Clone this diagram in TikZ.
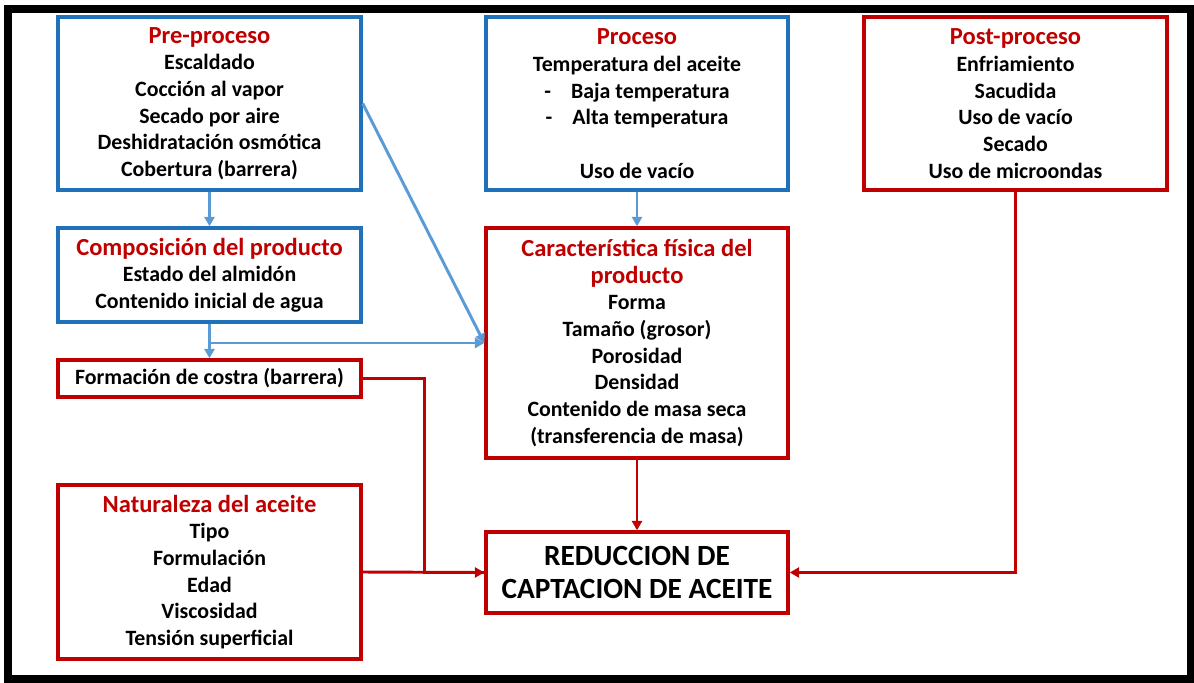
\documentclass[tikz,border=0pt]{standalone}
\usepackage{fontspec}
\setmainfont{Carlito}
\usetikzlibrary{arrows.meta,calc}
\definecolor{tred}{HTML}{C00000}
\definecolor{bbox}{HTML}{1F72BA}
\definecolor{barr}{HTML}{5B9BD5}
\newcommand{\boxtitle}[1]{{\fontsize{18.4}{20}\selectfont\color{tred}#1}}
\begin{document}
\begin{tikzpicture}[x=0.75pt,y=-0.75pt,
 box/.style={draw, line width=2.6pt, fill=white, align=center, inner sep=0pt,
   font=\bfseries\fontsize{16.4}{20}\selectfont},
 wh/.style 2 args={minimum width=#1*0.75pt, minimum height=#2*0.75pt},
 bluebox/.style={box, draw=bbox},
 redbox/.style={box, draw=tred},
 barrow/.style={draw=barr, line width=2.2pt, -{Triangle[length=7pt,width=7.5pt]}},
 rline/.style={draw=tred, line width=2.2pt},
 rarrow/.style={rline, -{Triangle[length=7pt,width=7.5pt]}},
 frame/.style={draw=black, line width=6pt}]
\useasboundingbox (0,0) rectangle (1194,682);
\fill[white] (0,0) rectangle (1194,682);
\draw[frame] (8,9) rectangle (1191,678.5);

\node[bluebox, wh={303}{173}] (pre) at (209.5,103.5)
  {\boxtitle{Pre-proceso}\\ Escaldado\\ Cocción al vapor\\ Secado por aire\\ Deshidratación osmótica\\ Cobertura (barrera)};
\node[bluebox, wh={302}{173}] (pro) at (637,103.5)
  {\boxtitle{Proceso}\\ Temperatura del aceite\\ -\hspace{15pt}Baja temperatura\\ -\hspace{15pt}Alta temperatura\\[20pt] Uso de vacío};
\node[redbox, wh={303}{173}] (post) at (1015.5,103.5)
  {\boxtitle{Post-proceso}\\ Enfriamiento\\ Sacudida\\ Uso de vacío\\ Secado\\ Uso de microondas};
\node[bluebox, wh={303}{94}] (comp) at (209.5,275)
  {\boxtitle{Composición del producto}\\ Estado del almidón\\ Contenido inicial de agua};
\node[redbox, wh={303}{37}] (form) at (209.5,378.5)
  {Formación de costra (barrera)};
\node[redbox, wh={302}{230}] (car) at (637,343)
  {\boxtitle{Característica física del}\\ \boxtitle{producto}\\ Forma\\ Tamaño (grosor)\\ Porosidad\\ Densidad\\ Contenido de masa seca\\ (transferencia de masa)};
\node[redbox, wh={302}{81}, font=\bfseries\fontsize{22}{24.75}\selectfont] (red) at (637,572.5)
  {REDUCCION DE\\ CAPTACION DE ACEITE};
\node[redbox, wh={303}{174}] (nat) at (209.5,572)
  {\boxtitle{Naturaleza del aceite}\\ Tipo\\ Formulación\\ Edad\\ Viscosidad\\ Tensión superficial};

\draw[barrow] (pre.south) -- (comp.north);
\draw[barrow] (pro.south) -- (car.north);
\draw[barrow] (pre.east) -- (car.west);
\draw[barrow] (comp.south) -- (form.north);
\draw[barrow] (comp.south |- car.west) -- (car.west);

\draw[rline] (form.east) -- ++(62,0) |- (red.west);
\draw[rarrow] (nat.east) -- (red.west);
\draw[rarrow] (car.south) -- (red.north);
\draw[rarrow] (post.south) |- (red.east);
\end{tikzpicture}
\end{document}
